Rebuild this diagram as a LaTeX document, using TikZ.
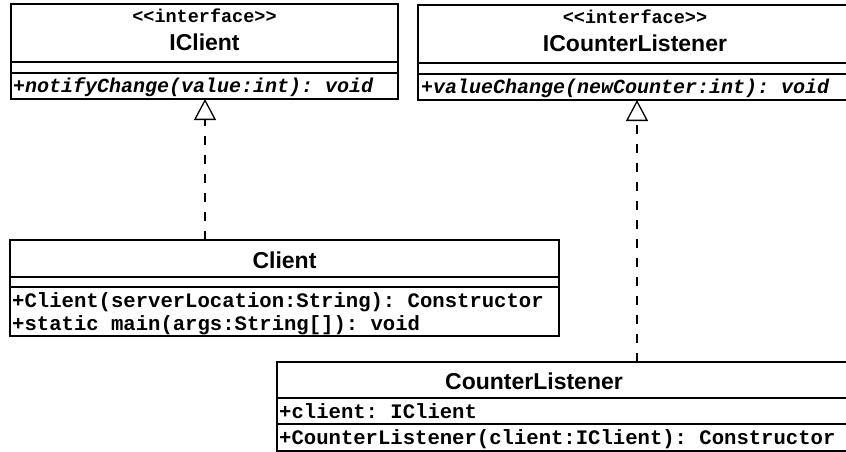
\documentclass[tikz,border=0pt]{standalone}
\usepackage{fontspec}
\setmainfont{Liberation Sans}
\newfontfamily\codefont{Liberation Mono}
\usetikzlibrary{arrows.meta}
\begin{document}
\frenchspacing
\begin{tikzpicture}[x=1pt,y=-1pt,
  classbox/.style={draw,line width=1.6pt,fill=white,inner sep=0pt},
  sep/.style={line width=1.6pt},
  stereo/.style={inner sep=0pt,anchor=base,font=\codefont\bfseries\fontsize{18.5}{20}\selectfont},
  cname/.style={inner sep=0pt,anchor=base,font=\bfseries\fontsize{23}{26}\selectfont},
  member/.style={inner sep=0pt,anchor=base west,font=\codefont\bfseries\fontsize{20.6}{22}\selectfont},
  abstract/.style={member,font=\codefont\bfseries\itshape\fontsize{20}{22}\selectfont},
  realize/.style={line width=1.3pt,dash pattern=on 9pt off 10pt,
    -{Triangle[open,width=22pt,length=21pt,line width=1.3pt]}}]
\useasboundingbox (0,0) rectangle (846,451);
\clip (0,0) rectangle (846,451);

% interface IClient
\draw[classbox] (11,4) rectangle (398,99);
\draw[sep] (11,62) -- (398,62) (11,73) -- (398,73);
\node[stereo] (icst) at (204.5,22) {<{}<interface>{}>};
\node[cname] (icname) at (204.5,50) {IClient};
\node[abstract] (icop) at (13,92) {+notifyChange(value:int): void};
\coordinate (icb) at (205,99);

% interface ICounterListener
\draw[classbox] (418,5) rectangle (850,100);
\draw[sep] (418,63) -- (850,63) (418,74) -- (850,74);
\node[stereo] (ilst) at (635,23) {<{}<interface>{}>};
\node[cname] (ilname) at (635,51) {ICounterListener};
\node[abstract] (ilop) at (421,93) {+valueChange(newCounter:int): void};
\coordinate (ilb) at (637,100);

% class Client
\draw[classbox] (10,240) rectangle (559,336);
\draw[sep] (10,277) -- (559,277) (10,287) -- (559,287);
\node[cname] (cname) at (284.5,268) {Client};
\node[member] (cm1) at (12,307) {+Client(serverLocation:String): Constructor};
\node[member] (cm2) at (12,330) {+static main(args:String[]): void};
\coordinate (ct) at (205,240);

% class CounterListener
\draw[classbox] (277,362) rectangle (850,451);
\draw[sep] (277,398) -- (850,398) (277,424) -- (850,424);
\node[cname] (clname) at (534,389) {CounterListener};
\node[member] (clattr) at (279,418) {+client: IClient};
\node[member] (clop) at (279,444) {+CounterListener(client:IClient): Constructor};
\coordinate (clt) at (637,362);

% realizations
\draw[realize] (ct) -- (icb);
\draw[realize] (clt) -- (ilb);
\end{tikzpicture}
\end{document}
